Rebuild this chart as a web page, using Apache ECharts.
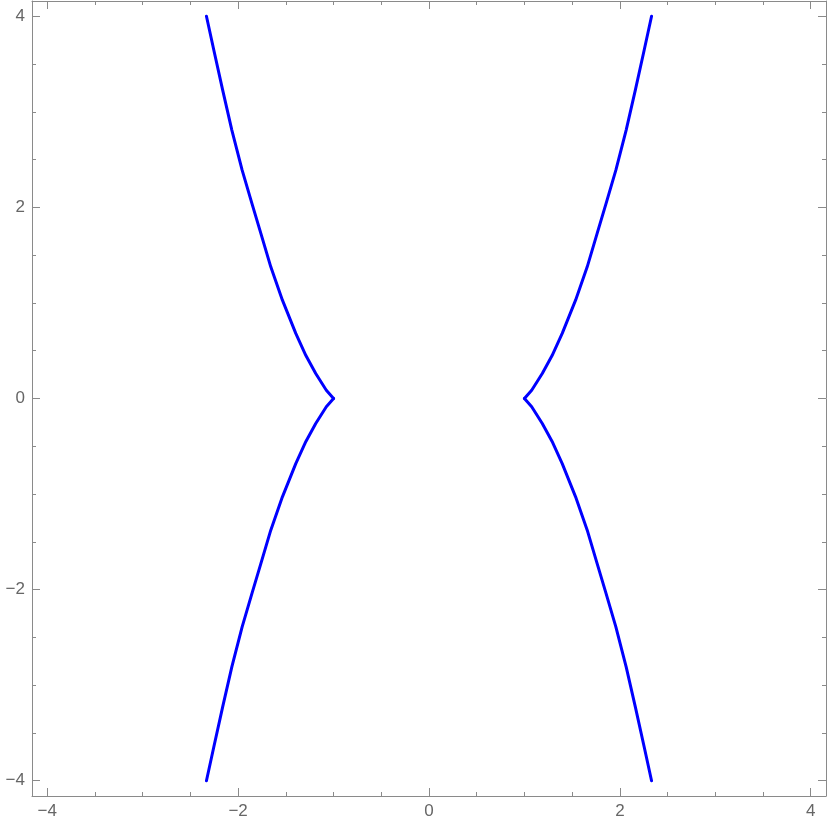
<!DOCTYPE html>
<html>
<head>
<meta charset="utf-8">
<script src="https://cdn.jsdelivr.net/npm/echarts@6/dist/echarts.min.js"></script>
<style>
    html, body { margin: 0; padding: 0; background: #fff; }
    #chart { width: 830px; height: 833px; }
</style>
</head>
<body>
<div id="chart"></div>
<script>
    // points, each branch from the cusp outwards
    var upperLeft = [
        [-1.000, 0.000], [-1.076, 0.087], [-1.187, 0.262], [-1.290, 0.450],
        [-1.396, 0.681], [-1.536, 1.029], [-1.658, 1.378], [-1.762, 1.728],
        [-1.855, 2.040], [-1.958, 2.390], [-2.066, 2.809], [-2.162, 3.228],
        [-2.255, 3.647], [-2.332, 4.000]
    ];
    var lowerLeft = [
        [-1.000, 0.000], [-1.076, -0.087], [-1.187, -0.262], [-1.290, -0.450],
        [-1.396, -0.681], [-1.536, -1.029], [-1.658, -1.378], [-1.762, -1.728],
        [-1.855, -2.040], [-1.958, -2.390], [-2.066, -2.809], [-2.162, -3.228],
        [-2.255, -3.647], [-2.332, -4.000]
    ];
    var upperRight = [
        [1.000, 0.000], [1.076, 0.087], [1.187, 0.262], [1.290, 0.450],
        [1.396, 0.681], [1.536, 1.029], [1.658, 1.378], [1.762, 1.728],
        [1.855, 2.040], [1.958, 2.390], [2.066, 2.809], [2.162, 3.228],
        [2.255, 3.647], [2.332, 4.000]
    ];
    var lowerRight = [
        [1.000, 0.000], [1.076, -0.087], [1.187, -0.262], [1.290, -0.450],
        [1.396, -0.681], [1.536, -1.029], [1.658, -1.378], [1.762, -1.728],
        [1.855, -2.040], [1.958, -2.390], [2.066, -2.809], [2.162, -3.228],
        [2.255, -3.647], [2.332, -4.000]
    ];
    var axisMin = -4.16;
    var axisMax = 4.16;
    var majorStep = 2;

    var frameColor = '#8a8a8a';
    var labelColor = '#666666';

    function fmt(v) {
        return v < 0 ? '\u2212' + Math.abs(v) : String(v);
    }

    function frameAxis(position, showLabel) {
        return {
            type: 'value',
            position: position,
            min: axisMin,
            max: axisMax,
            minInterval: majorStep,
            maxInterval: majorStep,
            splitLine: { show: false },
            axisLine: { show: true, onZero: false, lineStyle: { color: frameColor, width: 1 } },
            axisTick: { show: true, inside: true, length: 8, lineStyle: { color: frameColor } },
            minorTick: { show: true, splitNumber: 4, length: 4, lineStyle: { color: frameColor } },
            axisLabel: {
                show: showLabel,
                showMinLabel: false,
                showMaxLabel: false,
                color: labelColor,
                fontSize: 17,
                fontFamily: 'Liberation Sans',
                margin: 7,
                formatter: fmt
            }
        };
    }

    function branch(data) {
        return {
            type: 'line',
            data: data,
            showSymbol: false,
            smooth: false,
            lineStyle: { color: '#0000ff', width: 3, cap: 'round', join: 'round' },
            silent: true,
            animation: false
        };
    }

    var myChart = echarts.init(document.getElementById('chart'));
    var option = {
        backgroundColor: '#ffffff',
        animation: false,
        grid: { left: 32, top: 1, right: 4, bottom: 37 },
        xAxis: [frameAxis('bottom', true), frameAxis('top', false)],
        yAxis: [frameAxis('left', true), frameAxis('right', false)],
        series: [branch(upperLeft), branch(lowerLeft), branch(upperRight), branch(lowerRight)]
    };
    myChart.setOption(option);
</script>
</body>
</html>
